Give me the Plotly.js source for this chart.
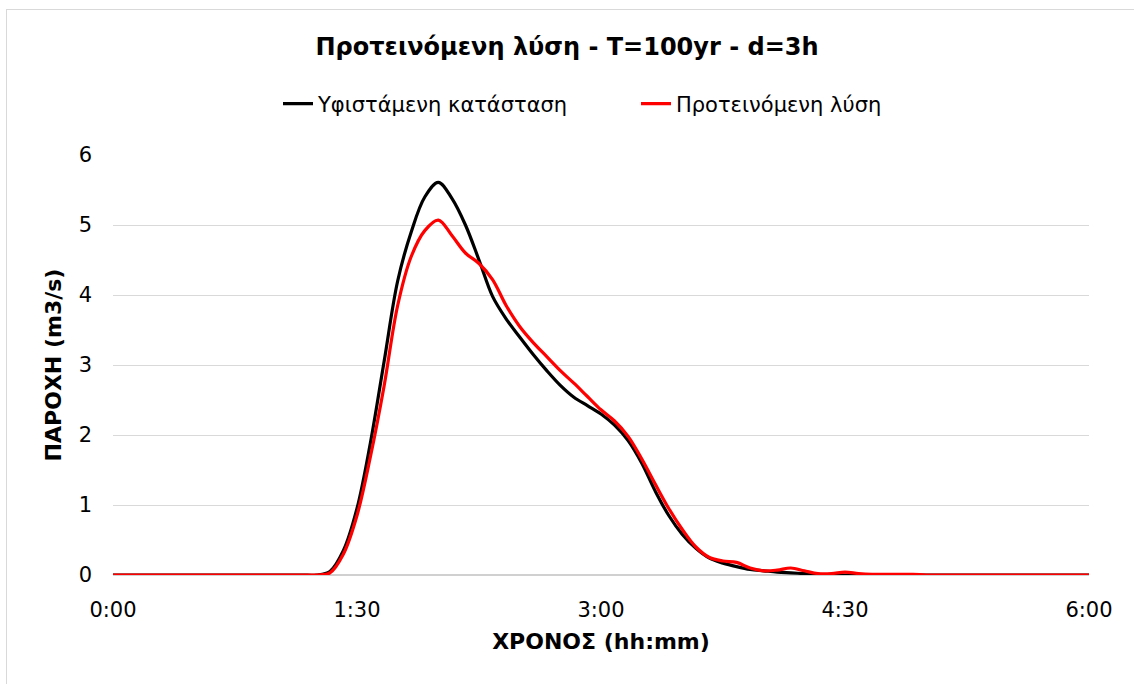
<!DOCTYPE html>
<html>
<head>
<meta charset="utf-8">
<script src="https://cdn.plot.ly/plotly-3.0.1.min.js"></script>
<style>
html,body{margin:0;padding:0;background:#fff;}
#frame{position:absolute;left:6px;top:9px;width:1140px;height:700px;border:1px solid #d9d9d9;box-sizing:border-box;}
#chart{position:absolute;left:0;top:0;width:1134px;height:684px;}
</style>
</head>
<body>
<div id="frame"></div>
<div id="chart"></div>
<script>
// time in minutes, 5-min steps
const minutes = [];
for (let m = 0; m <= 360; m += 5) minutes.push(m);

const existing = [
  0,0,0,0,0,0,0,0,0,0,0,0,0,0,0,0,      // 0-75
  0.05,0.35,0.95,1.9,3.05,4.2,4.9,5.4,5.61, // 80-120
  5.38,5.0,4.5,3.98,3.66,3.4,3.15,2.92,2.71,2.54,2.42,2.3, // 125-180
  2.14,1.92,1.6,1.2,0.85,0.58,0.38,0.24,0.17,0.12,0.08,0.06, // 185-240
  0.04,0.03,0.02,0.01,0,0,0,0,0,0,0,0, // 245-300
  0,0,0,0,0,0,0,0,0,0,0,0 // 305-360
];
const proposed = [
  0,0,0,0,0,0,0,0,0,0,0,0,0,0,0,0,
  0.03,0.3,0.85,1.7,2.7,3.85,4.55,4.92,5.07,
  4.85,4.6,4.45,4.22,3.85,3.55,3.32,3.12,2.92,2.74,2.55,2.36,
  2.2,1.98,1.66,1.3,0.95,0.65,0.4,0.25,0.2,0.18,0.1,0.06,
  0.07,0.1,0.06,0.02,0.02,0.04,0.02,0.01,0.01,0.01,0.01,0,
  0,0,0,0,0,0,0,0,0,0,0,0
];
const tickVals = [0, 90, 180, 270, 360];
const tickLabels = ["0:00", "1:30", "3:00", "4:30", "6:00"];
const seriesNames = ["Υφιστάμενη κατάσταση", "Προτεινόμενη λύση"];

const font = "'DejaVu Sans', sans-serif";

const traces = [
  {x: minutes, y: existing, name: seriesNames[0], mode: "lines",
   line: {color: "#000000", width: 3.2, shape: "spline", smoothing: 1}},
  {x: minutes, y: proposed, name: seriesNames[1], mode: "lines",
   line: {color: "#ff0000", width: 3.2, shape: "spline", smoothing: 1}}
];

const layout = {
  width: 1134, height: 684,
  paper_bgcolor: "rgba(0,0,0,0)", plot_bgcolor: "rgba(0,0,0,0)",
  margin: {l: 113, r: 45, t: 155, b: 109},
  title: {text: "<b>Προτεινόμενη λύση - T=100yr - d=3h</b>", font: {family: font, size: 24, color: "#000"},
          x: 0.5, xanchor: "center", y: 1 - 47/684, yanchor: "middle"},
  showlegend: true,
  legend: {orientation: "h", x: (278 - 113) / 976, xanchor: "left", y: 1 + (155 - 104) / 420, yanchor: "middle",
           font: {family: font, size: 21, color: "#000"}, entrywidth: 313, entrywidthmode: "pixels",
           bgcolor: "rgba(0,0,0,0)"},
  xaxis: {range: [0, 360], tickvals: tickVals, ticktext: tickLabels, showgrid: false, zeroline: false,
          showline: false, ticks: "", tickfont: {family: font, size: 21, color: "#000"}, ticklabelstandoff: 20,
          title: {text: "<b>ΧΡΟΝΟΣ (hh:mm)</b>", font: {family: font, size: 22, color: "#000"}, standoff: 12}},
  yaxis: {range: [0, 6], dtick: 1, showgrid: true, gridcolor: "#d9d9d9", gridwidth: 1, zeroline: true,
          zerolinecolor: "#d0d0d0", zerolinewidth: 1.3, showline: false, ticks: "",
          tickfont: {family: font, size: 21, color: "#000"}, ticklabelstandoff: 20,
          title: {text: "<b>ΠΑΡΟΧΗ (m3/s)</b>", font: {family: font, size: 22, color: "#000"}, standoff: 10}}
};

Plotly.newPlot("chart", traces, layout, {displayModeBar: false, staticPlot: true});
</script>
</body>
</html>
